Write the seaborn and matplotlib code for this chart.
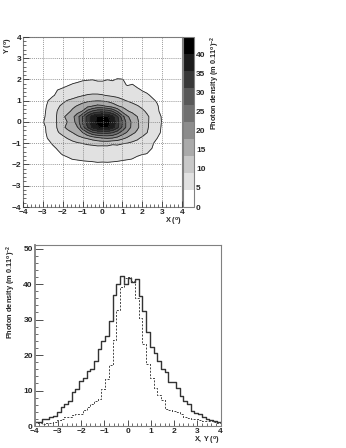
import numpy as np
import matplotlib
matplotlib.use("Agg")
import matplotlib.pyplot as plt
from matplotlib.ticker import MultipleLocator
import seaborn as sns

# photon density map, rows run from y = 2.25 down to y = -2.25
map_x = [-3.25, -3, -2.75, -2.5, -2.25, -2, -1.75, -1.5, -1.25, -1, -.75, -.5, -.25, 0,
         .25, .5, .75, 1, 1.25, 1.5, 1.75, 2, 2.25, 2.5, 2.75, 3, 3.25]
map_y = [2.25, 2, 1.75, 1.5, 1.25, 1, .75, .5, .25, 0, -.25, -.5, -.75, -1, -1.25, -1.5, -1.75, -2, -2.25]
density_map = [
    [.5, .5, .5, 1, 1, 1.5, 1.5, 2, 2, 2.5, 2.5, 3, 3, 3, 3, 3, 3, 2.5, 2, 2, 1.5, 1.5, 1, 1, .5, .5, .5],
    [.5, 1, 1, 1.5, 2, 2.5, 3, 3.5, 3.8, 4.2, 4.3, 4.4, 4, 4.2, 4.4, 4.1, 4.7, 4.6, 3.6, 3.2, 2.8, 2.4, 2, 1.5, 1, .5, .5],
    [1, 1.5, 2, 2.8, 3.3, 3.8, 4.2, 4.7, 5, 5.2, 5.4, 5.2, 5.5, 5, 5.4, 5.6, 5.1, 5.2, 4.2, 4.6, 3.8, 3.2, 2.8, 2, 1.5, 1, .5],
    [1.5, 2, 2.7, 3.6, 4.5, 4.9, 5.5, 5.8, 6.2, 6.6, 6.8, 7, 7.2, 7, 7, 7, 6.8, 6.3, 5.9, 5.4, 5, 4.3, 3.9, 3, 2.2, 1.5, 1],
    [2, 2.9, 3.5, 4.2, 5, 5.8, 6.4, 7.2, 8, 8.7, 9.3, 9.6, 9.5, 9.2, 8.7, 8.3, 8, 7.5, 7, 6.5, 6, 5.4, 4.8, 4.1, 3.3, 2.3, 1.5],
    [2.5, 3.3, 4.4, 5.5, 6.8, 8, 9.2, 10, 11, 12, 12.6, 13, 13.2, 13, 12.6, 11.6, 10.5, 9.5, 8.7, 7.8, 7, 6.2, 5.5, 4.9, 4.2, 3.2, 2],
    [2.6, 3.6, 4.8, 6.5, 8.3, 9.8, 11, 12.5, 13.7, 15, 16.5, 17.8, 19, 18.5, 17, 15.5, 13.7, 12.5, 11.5, 10.3, 9.2, 8, 7, 5.8, 4.7, 3.5, 2.3],
    [2.7, 3.8, 5, 7, 9.2, 10.8, 12.4, 14.2, 16.2, 18.2, 24, 27.5, 29.5, 30, 29.5, 27, 22, 16.5, 13.8, 12.4, 11.2, 9.8, 8.2, 6.5, 4.9, 3.7, 2.5],
    [2.8, 3.9, 5.2, 7.3, 9.5, 12.6, 14.5, 16.8, 20.5, 27, 33, 38, 40.5, 41.5, 40.5, 37, 32, 24, 18.5, 15.8, 13.4, 11.2, 9.5, 7.7, 5.8, 4.1, 2.8],
    [2.8, 4.3, 5.2, 7, 9.5, 12, 13.5, 16, 20, 27, 33, 38, 41, 42, 41.5, 39, 33, 27, 20, 17, 14, 11.5, 9.5, 7.5, 6, 4.2, 3],
    [2.8, 3.8, 5, 7, 9.4, 12.4, 14.5, 16.5, 17.8, 25, 31, 36.5, 39.5, 40.5, 40.5, 37.5, 32.5, 26, 20.5, 16.5, 14, 11.8, 9.3, 7.6, 5.8, 4, 2.7],
    [2.6, 3.7, 4.9, 6.8, 8.6, 10, 12, 13.4, 15.5, 17.8, 22, 26, 27.5, 28, 28, 27, 24, 20, 17.2, 14.3, 12.6, 11, 8.9, 7, 5.4, 3.9, 2.6],
    [2.3, 3.4, 4.6, 5.8, 7, 8, 9.2, 10.5, 11.8, 13, 14, 15.5, 17, 18, 18.5, 18, 16.5, 14.6, 12.8, 11.3, 9.8, 8.2, 7, 5.6, 4.5, 3.4, 2.2],
    [2, 2.8, 3.7, 4.8, 5.7, 6.5, 7.2, 7.8, 8.5, 9, 9.6, 9.8, 10.2, 10.5, 10.3, 9.6, 9.9, 9.2, 8.8, 8, 7.4, 6.5, 5.6, 4.7, 3.8, 2.7, 1.8],
    [1.6, 2.3, 3, 3.8, 4.7, 5.2, 5.7, 6.2, 6.5, 6.8, 7, 7.4, 7.6, 7.2, 7.5, 7.1, 7, 6.7, 6.3, 6, 5.6, 5.3, 4.9, 4.4, 3.3, 2.2, 1.5],
    [1.2, 1.7, 2.4, 3, 3.9, 4.7, 5, 5.4, 5.6, 5.9, 6, 6, 6.1, 6, 6.1, 6, 5.8, 5.6, 5.4, 5.1, 4.9, 4.6, 4.4, 3.2, 2.4, 1.6, 1],
    [.8, 1.2, 1.8, 2.4, 3, 3.5, 4.1, 4.5, 4.7, 4.9, 5, 5.1, 5.4, 5.2, 5.5, 5.3, 5.1, 4.8, 4.6, 4.4, 3.9, 3.4, 2.9, 2.3, 1.7, 1.1, .7],
    [.5, .8, 1.2, 1.6, 2, 2.4, 2.7, 3, 3.2, 3.4, 3.6, 3.7, 3.8, 3.8, 3.7, 3.6, 3.5, 3.4, 3.2, 2.9, 2.6, 2.2, 1.8, 1.4, 1, .7, .4],
    [.3, .4, .6, .8, 1, 1.2, 1.4, 1.6, 1.7, 1.8, 1.9, 2, 2, 2, 2, 1.9, 1.8, 1.7, 1.6, 1.4, 1.2, 1, .9, .7, .5, .4, .2],
]

band_levels = [0, 4.45, 8.9, 13.35, 17.8, 22.25, 26.7, 31.15, 35.6, 40.05, 44.5]
band_colors = ["#ffffff", "#e1e1e1", "#c8c8c8", "#aaaaaa", "#8c8c8c",
               "#707070", "#585858", "#383838", "#1c1c1c", "#000000"]
cbar_ticks = [0, 5, 10, 15, 20, 25, 30, 35, 40]

# slices through the centre, 50 bins between -4 and 4
profile_edges = np.linspace(-4, 4, 51)
profile_x = [1.0, 1.2, 1.9, 2.1, 2.4, 2.7, 4.0, 5.3, 6.3, 7.0,
             9.7, 10.5, 12.7, 13.4, 15.6, 16.0, 18.3, 21.7, 24.0, 25.5,
             29.7, 37.0, 40.0, 42.3, 40.0, 41.7, 40.5, 41.5, 36.5, 32.3,
             26.6, 22.4, 20.5, 18.3, 16.2, 15.3, 12.3, 12.5, 10.6, 8.5,
             7.1, 6.3, 4.2, 3.7, 3.3, 2.5, 2.0, 1.6, 1.4, 1.2]
profile_y = [1.0, 0.8, 0.7, 0.8, 0.9, 1.2, 1.8, 1.9, 2.4, 2.6,
             3.2, 3.4, 3.5, 4.5, 5.3, 6.2, 7.0, 7.6, 10.5, 13.2,
             17.3, 24.2, 32.7, 39.3, 41.7, 42.0, 40.8, 36.0, 30.4, 23.0,
             17.6, 13.4, 10.6, 8.7, 7.3, 4.9, 4.6, 4.3, 4.0, 3.5,
             2.6, 2.3, 2.0, 1.9, 1.8, 1.5, 1.4, 1.3, 1.0, 0.8]

sns.set_style("ticks")
plt.rcParams["font.family"] = ["Liberation Sans"]
plt.rcParams["font.weight"] = "bold"
plt.rcParams["mathtext.fontset"] = "custom"
plt.rcParams["mathtext.rm"] = "Liberation Sans:bold"
plt.rcParams["mathtext.default"] = "rm"

W, H = 346, 448
fig = plt.figure(figsize=(W / 100, H / 100), dpi=100)


def axes_px(left, top, right, bottom):
    return fig.add_axes([left / W, 1 - bottom / H, (right - left) / W, (bottom - top) / H])


def label_px(x, y, text, rotation=0, ha="center", va="center"):
    fig.text(x / W, 1 - y / H, text, rotation=rotation, ha=ha, va=va, fontsize=5.3)


def style_axes(ax):
    ax.tick_params(which="major", direction="in", length=4, width=0.6, labelsize=6, pad=1.2, color="#333333")
    ax.tick_params(which="minor", direction="in", length=2, width=0.5, color="#333333")
    for spine in ax.spines.values():
        spine.set_linewidth(0.8)
        spine.set_color("#808080")
        spine.set_visible(True)


# map panel
ax_map = axes_px(23, 37, 182, 207)
cf = ax_map.contourf(map_x, map_y, density_map, levels=band_levels, colors=band_colors)
ax_map.contour(map_x, map_y, density_map, levels=band_levels[1:-1], colors="#222222", linewidths=0.6)
ax_map.set_xlim(-4, 4)
ax_map.set_ylim(-4, 4)
ax_map.xaxis.set_major_locator(MultipleLocator(1))
ax_map.yaxis.set_major_locator(MultipleLocator(1))
ax_map.xaxis.set_minor_locator(MultipleLocator(0.2))
ax_map.yaxis.set_minor_locator(MultipleLocator(0.2))
ax_map.grid(True, which="major", color="#777777", linestyle=(0, (1.5, 1.5)), linewidth=0.5)
ax_map.set_axisbelow(False)
style_axes(ax_map)

ax_cbar = axes_px(183, 37, 194, 207)
cbar = fig.colorbar(cf, cax=ax_cbar, ticks=cbar_ticks)
cbar.ax.tick_params(direction="in", length=5, width=0.6, labelsize=6, pad=1.5, color="#333333")
cbar.ax.minorticks_off()
cbar.outline.set_linewidth(0.8)
cbar.outline.set_edgecolor("#808080")

label_px(9, 37, "Y ($^{o}$)", rotation=90, va="top")
label_px(182, 222, "X ($^{o}$)", ha="right")
label_px(215, 36, "Photon density (m 0.11$^{o}$)$^{-2}$", rotation=90, va="top")

# profile panel
ax_prof = axes_px(34.5, 245, 220.5, 426)
centers = (profile_edges[:-1] + profile_edges[1:]) / 2
sns.histplot(x=centers, weights=profile_x, bins=50, binrange=(-4, 4), element="step", fill=False,
             color="#333333", linewidth=1.0, ax=ax_prof)
sns.histplot(x=centers, weights=profile_y, bins=50, binrange=(-4, 4), element="step", fill=False,
             color="#444444", linewidth=0.7, linestyle=(0, (2, 1.5)), ax=ax_prof)
ax_prof.set_xlim(-4, 4)
ax_prof.set_ylim(0, 51)
ax_prof.set_xlabel("")
ax_prof.set_ylabel("")
ax_prof.xaxis.set_major_locator(MultipleLocator(1))
ax_prof.xaxis.set_minor_locator(MultipleLocator(0.2))
ax_prof.yaxis.set_major_locator(MultipleLocator(10))
ax_prof.yaxis.set_minor_locator(MultipleLocator(2))
style_axes(ax_prof)
ax_prof.tick_params(axis="y", which="major", length=5.5)
ax_prof.spines["left"].set_linewidth(1.3)

label_px(11, 245, "Photon density (m 0.11$^{o}$)$^{-2}$", rotation=90, va="top")
label_px(220, 441, "X, Y ($^{o}$)", ha="right")

fig.savefig("out.png", dpi=100)
